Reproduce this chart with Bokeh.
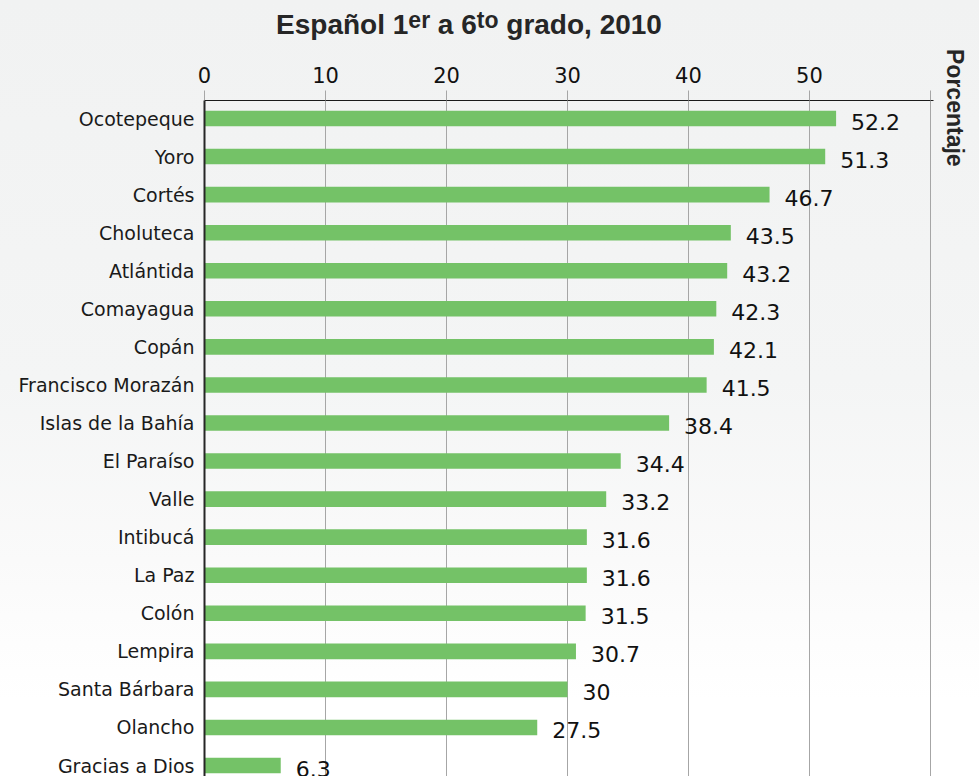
from bokeh.plotting import figure
from bokeh.models import Range1d, FixedTicker, Div, ColumnDataSource, GlobalInlineStyleSheet
from bokeh.layouts import column, row
from bokeh.embed import file_html
from bokeh.resources import INLINE
from bokeh.core.properties import value

# ---- data ----
departamentos = ["Ocotepeque", "Yoro", "Cortés", "Choluteca", "Atlántida", "Comayagua", "Copán",
                 "Francisco Morazán", "Islas de la Bahía", "El Paraíso", "Valle", "Intibucá",
                 "La Paz", "Colón", "Lempira", "Santa Bárbara", "Olancho", "Gracias a Dios"]
porcentajes = [52.2, 51.3, 46.7, 43.5, 43.2, 42.3, 42.1, 41.5, 38.4, 34.4, 33.2, 31.6,
               31.6, 31.5, 30.7, 30, 27.5, 6.3]
etiquetas = ["52.2", "51.3", "46.7", "43.5", "43.2", "42.3", "42.1", "41.5", "38.4", "34.4",
             "33.2", "31.6", "31.6", "31.5", "30.7", "30", "27.5", "6.3"]
x_ticks = [0, 10, 20, 30, 40, 50, 60]
x_tick_labels = ["0", "10", "20", "30", "40", "50", ""]

n = len(departamentos)
posiciones = [n - 1 - i for i in range(n)]

src = ColumnDataSource(dict(pos=posiciones, pct=porcentajes, lbl=etiquetas, dep=departamentos))

FONT = "DejaVu Sans"

p = figure(width=940, height=718,
           x_range=Range1d(0, 60.25), y_range=Range1d(-0.288, 17.473),
           x_axis_location="above",
           output_backend="svg", toolbar_location=None,
           min_border_left=204, min_border_right=7, min_border_top=42, min_border_bottom=0)

p.background_fill_alpha = 0
p.border_fill_alpha = 0
p.outline_line_color = None

p.hbar(y="pos", left=0, right="pct", height=0.41, source=src,
       fill_color="#74c267", line_color=None)

p.text(x="pct", y="pos", text="lbl", source=src, x_offset=15, y_offset=3,
       text_baseline="middle", text_align="left",
       text_font=value(FONT), text_font_size="22px", text_color="#111111")

# x axis (top)
xa = p.xaxis[0]
xa.ticker = FixedTicker(ticks=x_ticks)
xa.major_label_overrides = {t: l for t, l in zip(x_ticks, x_tick_labels)}
xa.major_tick_out = 10
xa.major_tick_in = 0
xa.major_tick_line_color = "#a6a6a6"
xa.minor_tick_line_color = None
xa.axis_line_color = "#1a1a1a"
xa.axis_line_width = 1
xa.major_label_text_font = FONT
xa.major_label_text_font_size = "21px"
xa.major_label_text_color = "#111111"
xa.major_label_standoff = 8

# y axis (categories)
ya = p.yaxis[0]
ya.ticker = FixedTicker(ticks=posiciones)
ya.major_label_overrides = {t: d for t, d in zip(posiciones, departamentos)}
ya.major_tick_out = 0
ya.major_tick_in = 0
ya.minor_tick_line_color = None
ya.axis_line_color = "#262626"
ya.axis_line_width = 2
ya.major_label_text_font = FONT
ya.major_label_text_font_size = "19px"
ya.major_label_text_color = "#1a1a1a"
ya.major_label_standoff = 10

p.xgrid.ticker = FixedTicker(ticks=x_ticks[1:])
p.xgrid.grid_line_color = "#a6a6a6"
p.ygrid.visible = False

titulo = Div(
    text=('<div style="font-family:\'Liberation Sans\',Arial,sans-serif;font-weight:bold;'
          'font-size:28px;line-height:28px;color:#262626;text-align:center;width:938px;'
          'padding-top:11px;white-space:nowrap;">Español 1<span style="font-size:23px;'
          'vertical-align:6px;line-height:0;">er</span> a 6<span style="font-size:23px;'
          'vertical-align:6px;line-height:0;">to</span> grado, 2010</div>'),
    width=940, height=58, margin=0)

eje_label = Div(
    text=('<div style="writing-mode:vertical-rl;font-family:\'Liberation Sans\',Arial,sans-serif;'
          'font-weight:bold;font-size:23px;line-height:23px;color:#262626;'
          'padding-top:49px;padding-left:3px;white-space:nowrap;">Porcentaje</div>'),
    width=39, height=776, margin=0)

css = GlobalInlineStyleSheet(css=(
    "html { background: linear-gradient(to bottom, #f1f2f2 0px, #f4f5f5 380px, "
    "#fafafa 560px, #ffffff 700px) no-repeat; min-height: 100%; }"
    "body { background: transparent; }"))

layout = row(column(titulo, p, spacing=0), eje_label, spacing=0, stylesheets=[css])

open("out.html", "w").write(file_html(layout, INLINE))
